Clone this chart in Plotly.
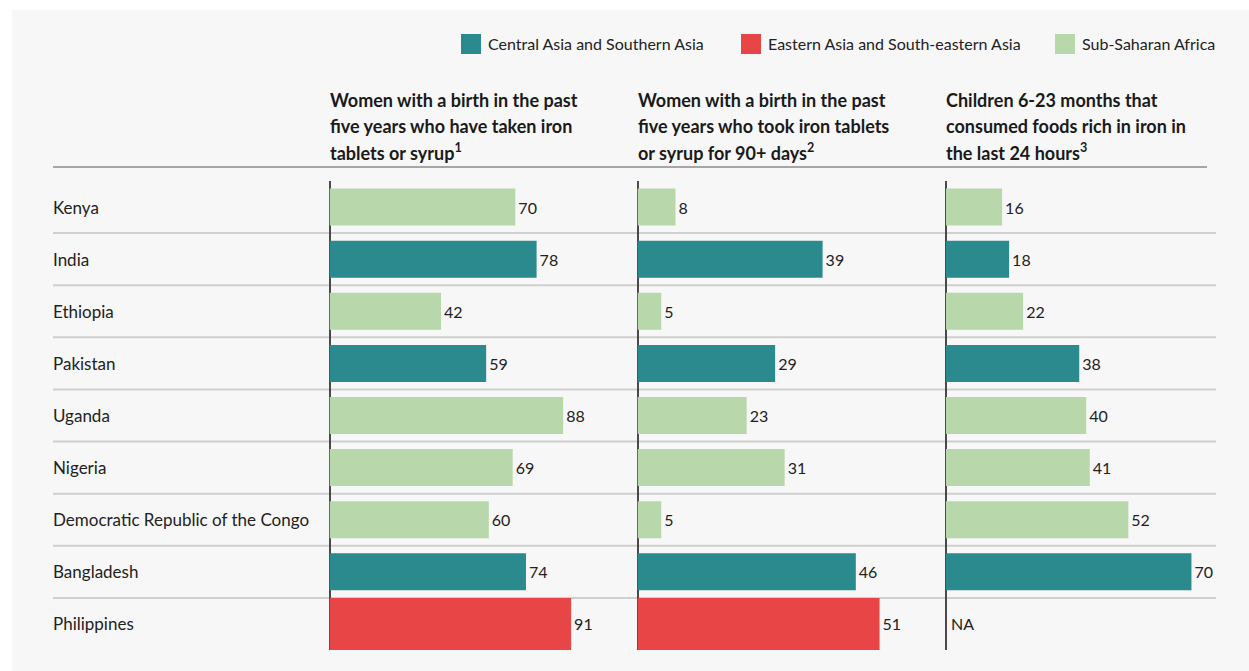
import plotly.graph_objects as go

W, H = 1249, 671

countries = ["Kenya", "India", "Ethiopia", "Pakistan", "Uganda", "Nigeria",
             "Democratic Republic of the Congo", "Bangladesh", "Philippines"]
regions = ["Sub-Saharan Africa", "Central Asia and Southern Asia", "Sub-Saharan Africa",
           "Central Asia and Southern Asia", "Sub-Saharan Africa", "Sub-Saharan Africa",
           "Sub-Saharan Africa", "Central Asia and Southern Asia",
           "Eastern Asia and South-eastern Asia"]
iron_taken = [70, 78, 42, 59, 88, 69, 60, 74, 91]
iron_90days = [8, 39, 5, 29, 23, 31, 5, 46, 51]
child_iron = [16, 18, 22, 38, 40, 41, 52, 70, None]

region_order = ["Central Asia and Southern Asia", "Eastern Asia and South-eastern Asia",
                "Sub-Saharan Africa"]
region_colors = {"Central Asia and Southern Asia": "#2a8a8e",
                 "Eastern Asia and South-eastern Asia": "#e84646",
                 "Sub-Saharan Africa": "#b8d7ab"}

panel_titles = [
    ["Women with a birth in the past", "five years who have taken iron",
     "tablets or syrup<sup>1</sup>"],
    ["Women with a birth in the past", "five years who took iron tablets",
     "or syrup for 90+ days<sup>2</sup>"],
    ["Children 6-23 months that", "consumed foods rich in iron in",
     "the last 24 hours<sup>3</sup>"],
]
panel_values = [iron_taken, iron_90days, child_iron]
panel_ranges = [[0, 116], [0, 65], [0, 77]]

FONT = "Lato"
px = lambda x: x / W
py = lambda y: 1 - y / H

x_edges = [329.5, 637.5, 946, 1216]
y_top, y_bot = 181, 650

fig = go.Figure()

for p, vals in enumerate(panel_values):
    xa = "x" if p == 0 else f"x{p+1}"
    ya = "y" if p == 0 else f"y{p+1}"
    for reg in region_order:
        ys = [c for c, r, v in zip(countries, regions, vals) if r == reg and v is not None]
        xs = [v for c, r, v in zip(countries, regions, vals) if r == reg and v is not None]
        if not xs:
            continue
        wide = reg == "Eastern Asia and South-eastern Asia"
        fig.add_trace(go.Bar(
            x=xs, y=ys, orientation="h", xaxis=xa, yaxis=ya, name=reg,
            marker=dict(color=region_colors[reg], line=dict(width=0)),
            width=1.0 if wide else 0.71,
            text=[str(v) for v in xs], textposition="outside",
            textfont=dict(family=FONT, size=16, color="#222222"),
            cliponaxis=False, showlegend=False, hoverinfo="x+y",
        ))

layout = dict(
    width=W, height=H,
    margin=dict(l=0, r=0, t=0, b=0),
    paper_bgcolor="#ffffff", plot_bgcolor="rgba(0,0,0,0)",
    barmode="overlay",
    font=dict(family=FONT, size=15, color="#222222"),
    showlegend=False,
)

for p in range(3):
    xk = "xaxis" if p == 0 else f"xaxis{p+1}"
    yk = "yaxis" if p == 0 else f"yaxis{p+1}"
    ya = "y" if p == 0 else f"y{p+1}"
    xa = "x" if p == 0 else f"x{p+1}"
    layout[xk] = dict(domain=[px(x_edges[p]), px(x_edges[p + 1])], range=panel_ranges[p],
                      anchor=ya, showgrid=False, showticklabels=False, ticks="",
                      zeroline=True, zerolinecolor="#4a4a4a", zerolinewidth=1.6,
                      showline=False, fixedrange=True)
    layout[yk] = dict(domain=[py(y_bot), py(y_top)], anchor=xa,
                      categoryorder="array", categoryarray=countries,
                      range=[len(countries) - 0.5, -0.5],
                      showgrid=False, showticklabels=False, ticks="", zeroline=False,
                      showline=False, fixedrange=True)

fig.update_layout(**layout)

shapes = []
annotations = []
# background panel
shapes.append(dict(type="rect", xref="paper", yref="paper", x0=px(12), x1=1, y0=0, y1=py(10),
                   fillcolor="#f7f7f7", line=dict(width=0), layer="below"))
# header rule
shapes.append(dict(type="line", xref="paper", yref="paper", x0=px(53), x1=px(1207),
                   y0=py(167), y1=py(167), line=dict(color="#a6a6a6", width=2), layer="below"))
# row separators
for i in range(len(countries) - 1):
    shapes.append(dict(type="line", xref="paper", yref="y", x0=px(53), x1=px(1216),
                       y0=i + 0.5, y1=i + 0.5, line=dict(color="#cfcfcf", width=2),
                       layer="below"))

# legend (swatch + label)
legend_x = [461, 741, 1055]
for reg, lx in zip(region_order, legend_x):
    shapes.append(dict(type="rect", xref="paper", yref="paper",
                       x0=px(lx), x1=px(lx + 20), y0=py(54), y1=py(34),
                       fillcolor=region_colors[reg], line=dict(width=0)))
    annotations.append(dict(xref="paper", yref="paper", x=px(lx + 25), y=py(44), text=reg,
                            xanchor="left", yanchor="middle", showarrow=False,
                            font=dict(family=FONT, size=16, color="#222222")))

for c in countries:
    annotations.append(dict(xref="paper", yref="y", x=px(51), y=c, text=c,
                            xanchor="left", yanchor="middle", showarrow=False,
                            font=dict(family=FONT, size=17, color="#222222")))
for p, lines in enumerate(panel_titles):
    for k, t in enumerate(lines):
        annotations.append(dict(xref="paper", yref="paper", x=px(x_edges[p] - 2),
                                y=py(100 + 26 * k), text="<b>" + t + "</b>",
                                xanchor="left", yanchor="middle", align="left",
                                showarrow=False,
                                font=dict(family=FONT, size=18, color="#1a1a1a")))
# NA label for missing value
for c, v in zip(countries, child_iron):
    if v is None:
        annotations.append(dict(xref="x3", yref="y3", x=0, y=c, text="NA",
                                xanchor="left", yanchor="middle", xshift=3, showarrow=False,
                                font=dict(family=FONT, size=16, color="#222222")))

fig.update_layout(shapes=shapes, annotations=annotations)

fig.write_html("out.html", config={"displayModeBar": False},
               post_script="document.body.style.margin='0';document.body.style.overflow='hidden';")
